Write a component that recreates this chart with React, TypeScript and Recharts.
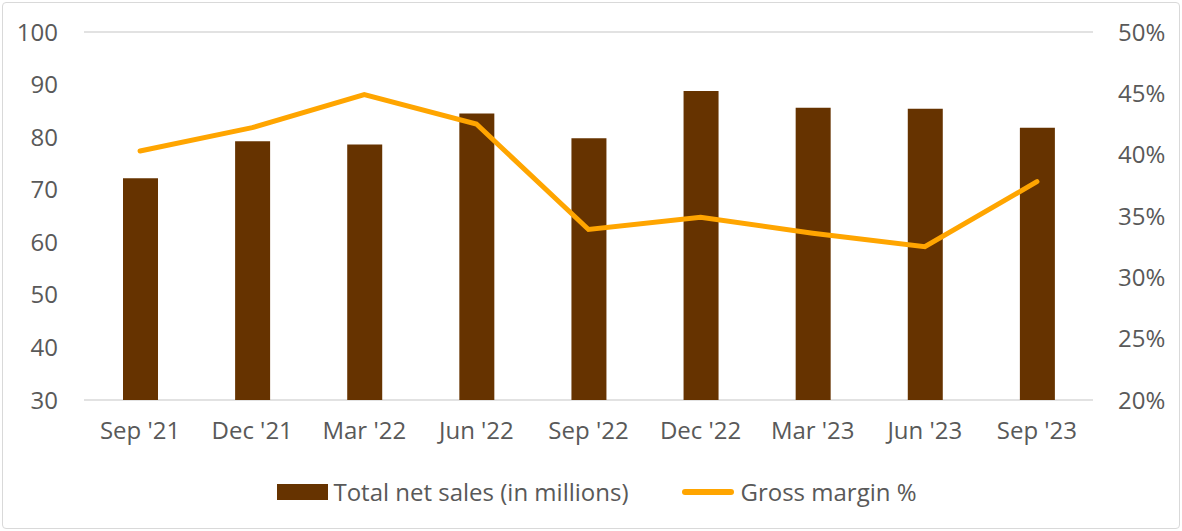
import React from "react";
import {
  ComposedChart, Bar, Line, XAxis, YAxis, CartesianGrid,
} from "recharts";

const quarters = ["Sep '21", "Dec '21", "Mar '22", "Jun '22", "Sep '22", "Dec '22", "Mar '23", "Jun '23", "Sep '23"];
const netSales = [72.2, 79.2, 78.6, 84.5, 79.8, 88.8, 85.6, 85.4, 81.8];
const grossMargin = [40.3, 42.2, 44.9, 42.5, 33.9, 34.9, 33.6, 32.5, 37.8];
const salesTicks = [30, 40, 50, 60, 70, 80, 90, 100];
const marginTicks = [20, 25, 30, 35, 40, 45, 50];

const BAR_COLOR = "#663300";
const LINE_COLOR = "#FFA500";
const TEXT = "#595959";
const FONT = "'Open Sans', sans-serif";
const FS = 24;

const data = quarters.map((q, i) => ({ name: q, sales: netSales[i], margin: grossMargin[i] }));

const tickStyle = { fontSize: FS, fill: TEXT, fontFamily: FONT };

function ChartLegend() {
  return (
    <div style={{ position: "absolute", left: 6, top: 476, width: 1182, display: "flex", justifyContent: "center", alignItems: "center", fontFamily: FONT, fontSize: FS, color: TEXT, lineHeight: "32px" }}>
      <span style={{ display: "inline-block", width: 51, height: 16, background: BAR_COLOR, marginRight: 5 }} />
      <span style={{ marginRight: 54 }}>Total net sales (in millions)</span>
      <span style={{ display: "inline-block", width: 52, height: 6, borderRadius: 3, background: LINE_COLOR, marginRight: 6 }} />
      <span>Gross margin %</span>
    </div>
  );
}

export default function App() {
  return (
    <div style={{ position: "absolute", left: 0, top: 0, width: 1182, height: 531, background: "#fff" }}>
      <div style={{ position: "absolute", left: 2, top: 2, width: 1176, height: 525, border: "1px solid #d9d9d9", borderRadius: 4 }} />
      <ComposedChart width={1182} height={531} data={data} margin={{ top: 32, right: 0, bottom: 0, left: 0 }}>
        <CartesianGrid vertical={false} stroke="#d9d9d9" strokeWidth={1.5} />
        <XAxis dataKey="name" axisLine={false} tickLine={false} tickSize={0} tickMargin={22} height={131}
          fontSize={FS} tick={tickStyle} interval={0} />
        <YAxis yAxisId="left" domain={[30, 100]} ticks={salesTicks} axisLine={false} tickLine={false} tickSize={0}
          tickMargin={26} width={84} fontSize={FS} tick={tickStyle} />
        <YAxis yAxisId="right" orientation="right" domain={[20, 50]} ticks={marginTicks} axisLine={false} tickLine={false}
          tickSize={0} tickMargin={25} width={89} fontSize={FS} tickFormatter={(v) => `${v}%`}
          tick={tickStyle} />
        <Bar yAxisId="left" dataKey="sales" fill={BAR_COLOR} barSize={35} isAnimationActive={false} />
        <Line yAxisId="right" dataKey="margin" type="linear" stroke={LINE_COLOR} strokeWidth={5}
          strokeLinecap="round" dot={false} activeDot={false} isAnimationActive={false} />
      </ComposedChart>
      <ChartLegend />
    </div>
  );
}
